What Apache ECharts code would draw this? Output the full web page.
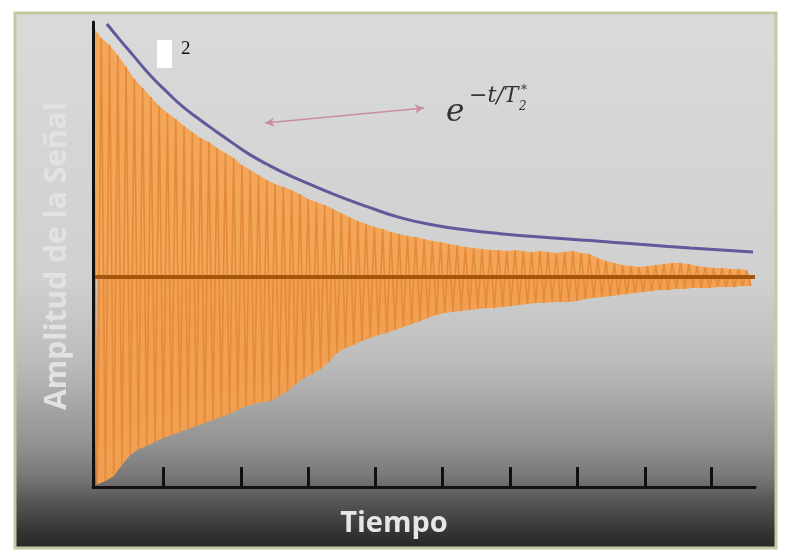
<!DOCTYPE html>
<html>
<head>
<meta charset="utf-8">
<script src="https://cdn.jsdelivr.net/npm/echarts@6/dist/echarts.min.js"></script>
<style>
html,body{margin:0;padding:0;background:#ffffff;}
#chart{width:785px;height:552px;}
</style>
</head>
<body>
<div id="chart"></div>
<script>
// ---- Data ----
// Oscillation period (time units) between successive peaks
const period = 0.125;
// Positive peaks of the decaying signal (one per cycle)
const peaks = [
  0.98, 0.937, 0.91, 0.87, 0.824, 0.776, 0.741, 0.706, 0.671, 0.643,
  0.62, 0.592, 0.569, 0.545, 0.529, 0.506, 0.486, 0.467, 0.439, 0.42,
  0.4, 0.38, 0.365, 0.353, 0.341, 0.325, 0.306, 0.294, 0.282, 0.267,
  0.251, 0.235, 0.22, 0.208, 0.196, 0.188, 0.176, 0.169, 0.161, 0.157,
  0.149, 0.141, 0.137, 0.129, 0.125, 0.118, 0.114, 0.11, 0.106, 0.106,
  0.102, 0.106, 0.102, 0.098, 0.102, 0.098, 0.094, 0.098, 0.102, 0.094,
  0.09, 0.075, 0.063, 0.055, 0.047, 0.043, 0.039, 0.043, 0.047, 0.051,
  0.055, 0.055, 0.051, 0.043, 0.039, 0.035, 0.035, 0.031, 0.031, 0.027
];
// Negative troughs of the decaying signal (one per cycle)
const troughs = [
  -0.814, -0.80, -0.78, -0.737, -0.698, -0.675, -0.663, -0.647, -0.631, -0.62,
  -0.608, -0.596, -0.584, -0.573, -0.561, -0.549, -0.537, -0.522, -0.506, -0.498,
  -0.49, -0.486, -0.467, -0.447, -0.42, -0.396, -0.38, -0.361, -0.333, -0.298,
  -0.278, -0.267, -0.251, -0.239, -0.227, -0.22, -0.208, -0.196, -0.184, -0.173,
  -0.161, -0.149, -0.141, -0.137, -0.133, -0.129, -0.125, -0.122, -0.122, -0.118,
  -0.114, -0.11, -0.106, -0.102, -0.102, -0.098, -0.098, -0.098, -0.094, -0.086,
  -0.082, -0.078, -0.075, -0.071, -0.067, -0.063, -0.059, -0.055, -0.051, -0.051,
  -0.047, -0.047, -0.043, -0.043, -0.043, -0.039, -0.039, -0.039, -0.035, -0.035
];
// Exponential envelope e^{-t/T2*} (purple curve)
const envTime  = [0.21, 0.41, 0.60, 0.86, 1.12, 1.36, 1.62, 1.87, 2.11, 2.37, 2.63, 2.87, 3.13, 3.63, 4.14, 4.64, 5.14, 5.65, 6.15, 6.90, 7.51, 8.26, 9.02, 9.97];
const envValue = [0.992, 0.929, 0.871, 0.792, 0.725, 0.667, 0.616, 0.569, 0.525, 0.480, 0.442, 0.410, 0.380, 0.325, 0.276, 0.233, 0.204, 0.184, 0.170, 0.154, 0.143, 0.128, 0.114, 0.098];
// Time-axis tick positions
const tickValues = [1.057, 2.243, 3.255, 4.267, 5.279, 6.299, 7.311, 8.338, 9.343];
// Texts
const xTitle = 'Tiempo';
const yTitle = 'Amplitud de la Señal';
const arrowFrom = [2.60, 0.604];
const arrowTo = [5.00, 0.663];

// ---- Build series data ----
const upperPts = peaks.map((v, i) => [i * period, v]);
const lowerPts = troughs.map((v, i) => [i * period + period / 2, v]);
const signal = [];
peaks.forEach((v, i) => { signal.push(upperPts[i]); signal.push(lowerPts[i]); });
const envelope = envTime.map((t, i) => [t, envValue[i]]);

const chart = echarts.init(document.getElementById('chart'), null, {renderer: 'canvas'});

const bgGrad = new echarts.graphic.LinearGradient(0, 0, 0, 1, [
  {offset: 0, color: '#dadada'},
  {offset: 0.5, color: '#d0d0d0'},
  {offset: 0.65, color: '#bcbcbc'},
  {offset: 0.72, color: '#a9a9a9'},
  {offset: 0.8, color: '#939393'},
  {offset: 0.86, color: '#7a7a7a'},
  {offset: 0.91, color: '#575757'},
  {offset: 0.97, color: '#333333'},
  {offset: 1, color: '#262626'}
]);

const option = {
  animation: false,
  grid: {left: 93, right: 30, top: 22, bottom: 65},
  xAxis: {
    type: 'value', min: 0, max: 10, z: 10,
    axisLine: {show: true, onZero: false, lineStyle: {color: '#111', width: 3}},
    axisTick: {show: true, inside: true, length: 20, customValues: tickValues, lineStyle: {color: '#111', width: 3}},
    axisLabel: {show: false},
    splitLine: {show: false}
  },
  yAxis: {
    type: 'value', min: -0.8235, max: 1, z: 10,
    axisLine: {show: true, onZero: false, lineStyle: {color: '#111', width: 3}},
    axisTick: {show: false},
    axisLabel: {show: false},
    splitLine: {show: false}
  },
  graphic: [
    {type: 'rect', z: -10, shape: {x: 15, y: 13, width: 761, height: 535},
     style: {fill: bgGrad, stroke: '#c5c9a2', lineWidth: 3}},
    {type: 'rect', z: 50, shape: {x: 157, y: 40, width: 15, height: 28}, style: {fill: '#ffffff'}},
    {type: 'text', z: 50, x: 181, y: 40, style: {text: '2', font: '19px "Liberation Serif"', fill: '#111'}},
    {type: 'text', z: 50, x: 446, y: 97, style: {text: 'e', font: 'italic 31px "DejaVu Serif"', fill: '#333'}},
    {type: 'text', z: 50, x: 469, y: 85, style: {text: '−t/T', font: 'italic 22px "DejaVu Serif"', fill: '#333'}},
    {type: 'text', z: 50, x: 519, y: 101, style: {text: '2', font: 'italic 12px "DejaVu Serif"', fill: '#333'}},
    {type: 'text', z: 50, x: 521, y: 85, style: {text: '*', font: '12px "DejaVu Serif"', fill: '#333'}},
    {type: 'text', z: 50, x: 394, y: 524, style: {text: xTitle, font: 'bold 29px "Open Sans"', fill: '#e6e6e6', align: 'center', verticalAlign: 'middle'}},
    {type: 'text', z: 50, x: 57, y: 256, rotation: Math.PI / 2,
     style: {text: yTitle, font: 'bold 30px "Open Sans"', fill: '#e2e2e2', align: 'center', verticalAlign: 'middle'}}
  ],
  series: [
    {
      name: 'upper', type: 'line', data: upperPts, symbol: 'none', silent: true, z: 2,
      lineStyle: {width: 0}, areaStyle: {color: '#f4a658', opacity: 1}
    },
    {
      name: 'lower', type: 'line', data: lowerPts, symbol: 'none', silent: true, z: 2,
      lineStyle: {width: 0}, areaStyle: {color: '#f0a050', opacity: 1}
    },
    {
      name: 'signal', type: 'line', data: signal, symbol: 'none', silent: true, z: 3,
      lineStyle: {color: '#e58a3a', width: 1.6},
      markLine: {
        silent: true, symbol: 'none', animation: false,
        label: {show: false},
        lineStyle: {color: '#a4560f', width: 4, type: 'solid'},
        data: [{yAxis: 0}]
      }
    },
    {
      name: 'envelope', type: 'line', data: envelope, symbol: 'none', smooth: true, silent: true, z: 4,
      lineStyle: {color: '#62589a', width: 3},
      markLine: {
        silent: true, symbol: ['arrow', 'arrow'], symbolSize: [7, 9], animation: false,
        label: {show: false},
        lineStyle: {color: '#cc8d9c', width: 1.5, type: 'solid'},
        data: [[{coord: arrowFrom}, {coord: arrowTo}]]
      }
    }
  ]
};
chart.setOption(option);
</script>
</body>
</html>
